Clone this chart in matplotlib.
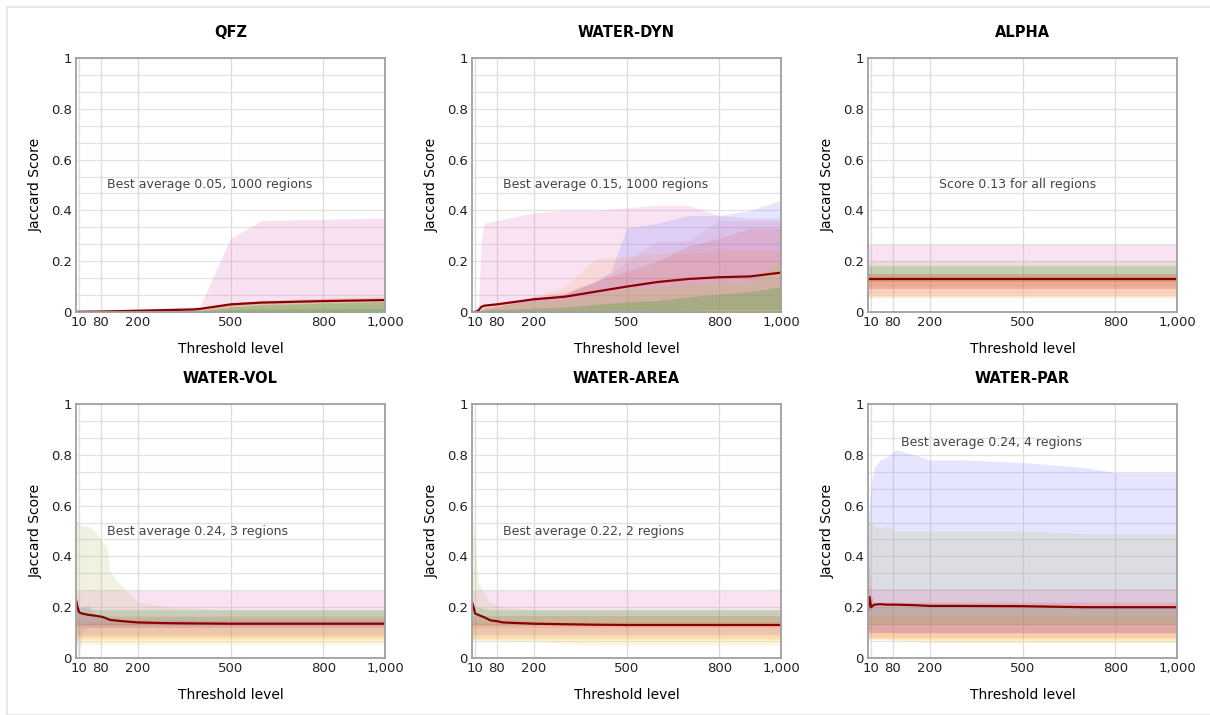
"""Jaccard score vs threshold level for six region sets."""

import matplotlib

matplotlib.use("Agg")
import matplotlib.pyplot as plt
import numpy as np
from matplotlib.patches import Rectangle
from matplotlib.ticker import FuncFormatter, MultipleLocator

plt.rcParams["font.family"] = ["DejaVu Sans"]

# region colours (pink, blue, khaki, green, orange, red, yellow, mauve)
PINK = "#e377c2"
BLUE = "#8080ff"
KHAKI = "#bcbd72"
GREEN = "#2ca02c"
ORANGE = "#ff7f0e"
RED = "#d62728"
YELLOW = "#ffd34d"
MAUVE = "#b05090"
MEAN_COLOR = "#8b0000"

X_TICKS = [10, 80, 200, 500, 800, 1000]

# ---- QFZ ----
QFZ_X = [0, 10, 80, 200, 380, 400, 500, 600, 800, 1000]
QFZ_MEAN = [0, 0.001, 0.002, 0.005, 0.01, 0.012, 0.03, 0.037, 0.043, 0.047]
QFZ_PINK = [0, 0.002, 0.005, 0.012, 0.02, 0.02, 0.29, 0.36, 0.365, 0.37]
QFZ_RED = [0, 0, 0.002, 0.006, 0.012, 0.014, 0.035, 0.045, 0.055, 0.06]
QFZ_KHAKI = [0, 0, 0.001, 0.004, 0.008, 0.01, 0.028, 0.036, 0.042, 0.046]
QFZ_GREEN = [0, 0, 0, 0.002, 0.005, 0.006, 0.02, 0.028, 0.035, 0.04]
QFZ_GREEN2 = [0, 0, 0, 0.001, 0.003, 0.004, 0.01, 0.012, 0.013, 0.015]

# ---- WATER-DYN ----
DYN_X = [0, 10, 20, 30, 40, 80, 200, 300, 400, 450, 500, 600, 700, 800, 900, 1000]
DYN_MEAN = [0, 0, 0.005, 0.02, 0.025, 0.03, 0.05, 0.06, 0.08, 0.09, 0.1, 0.118, 0.13, 0.137, 0.14, 0.155]
DYN_PINK = [0, 0, 0, 0.28, 0.35, 0.36, 0.39, 0.40, 0.40, 0.405, 0.41, 0.42, 0.42, 0.38, 0.37, 0.37]
DYN_BLUE = [0, 0, 0, 0.01, 0.015, 0.02, 0.05, 0.07, 0.12, 0.16, 0.33, 0.35, 0.38, 0.38, 0.40, 0.44]
DYN_MAUVE = [0, 0, 0, 0.01, 0.015, 0.02, 0.06, 0.08, 0.12, 0.15, 0.2, 0.28, 0.28, 0.36, 0.36, 0.36]
DYN_ORANGE = [0, 0, 0, 0.01, 0.015, 0.025, 0.06, 0.1, 0.21, 0.215, 0.22, 0.23, 0.23, 0.24, 0.24, 0.24]
DYN_RED = [0, 0, 0, 0.01, 0.02, 0.03, 0.05, 0.07, 0.12, 0.14, 0.16, 0.2, 0.26, 0.29, 0.33, 0.33]
DYN_KHAKI = [0, 0, 0, 0.01, 0.02, 0.025, 0.04, 0.05, 0.07, 0.08, 0.09, 0.1, 0.11, 0.12, 0.12, 0.2]
DYN_GREEN = [0, 0, 0, 0.005, 0.008, 0.01, 0.015, 0.02, 0.03, 0.035, 0.04, 0.045, 0.06, 0.07, 0.08, 0.1]
DYN_YELLOW = [0, 0, 0, 0, 0, 0, 0, 0, 0.002, 0.003, 0.004, 0.006, 0.008, 0.01, 0.01, 0.01]

# ---- ALPHA ----
ALPHA_X = [0, 1000]
ALPHA_MEAN = [0.13, 0.13]
ALPHA_BANDS = [  # colour, low, high
    (PINK, 0.06, 0.265),
    (KHAKI, 0.1, 0.2),
    (GREEN, 0.12, 0.18),
    (RED, 0.09, 0.15),
    (ORANGE, 0.07, 0.14),
    (YELLOW, 0.05, 0.08),
]

# ---- WATER-VOL ----
VOL_X = [0, 5, 10, 20, 40, 60, 80, 90, 100, 110, 150, 200, 300, 500, 1000]
VOL_MEAN = [0.23, 0.2, 0.18, 0.175, 0.17, 0.167, 0.163, 0.16, 0.155, 0.15, 0.145, 0.14, 0.137, 0.135, 0.135]
VOL_KHAKI = [0.54, 0.54, 0.53, 0.52, 0.52, 0.5, 0.47, 0.45, 0.44, 0.34, 0.28, 0.22, 0.2, 0.19, 0.19]
VOL_GREEN = [0.22, 0.2, 0.2, 0.2, 0.195, 0.19, 0.19, 0.19, 0.19, 0.19, 0.19, 0.19, 0.19, 0.19, 0.19]
VOL_RED = [0.2, 0.19, 0.18, 0.175, 0.17, 0.168, 0.165, 0.165, 0.165, 0.165, 0.165, 0.165, 0.165, 0.165, 0.165]
VOL_BLUE_LO = [0.1, 0.0, 0.0, 0.1, 0.12, 0.12, 0.12, 0.12, 0.12, 0.12, 0.12, 0.12, 0.12, 0.12, 0.12]
VOL_BLUE_HI = [0.2, 0.15, 0.15, 0.2, 0.21, 0.17, 0.16, 0.16, 0.15, 0.15, 0.15, 0.15, 0.15, 0.15, 0.15]

# ---- WATER-AREA ----
AREA_X = [0, 5, 10, 20, 40, 60, 80, 100, 200, 300, 400, 500, 1000]
AREA_MEAN = [0.22, 0.2, 0.175, 0.17, 0.16, 0.148, 0.145, 0.14, 0.135, 0.133, 0.131, 0.13, 0.13]
AREA_KHAKI = [0.54, 0.52, 0.47, 0.3, 0.25, 0.22, 0.21, 0.2, 0.19, 0.19, 0.19, 0.19, 0.19]
AREA_GREEN = [0.22, 0.2, 0.2, 0.2, 0.195, 0.19, 0.19, 0.19, 0.19, 0.19, 0.19, 0.19, 0.19]
AREA_YELLOW_LO = [0.07, 0.07, 0.07, 0.07, 0.07, 0.07, 0.07, 0.068, 0.065, 0.058, 0.05, 0.05, 0.05]

# ---- WATER-PAR ----
PAR_X = [0, 5, 10, 20, 40, 60, 90, 150, 200, 300, 500, 700, 800, 1000]
PAR_MEAN = [0.19, 0.24, 0.2, 0.21, 0.212, 0.21, 0.21, 0.208, 0.205, 0.205, 0.204, 0.2, 0.2, 0.2]
PAR_BLUE = [0.55, 0.6, 0.68, 0.75, 0.78, 0.79, 0.82, 0.8, 0.78, 0.78, 0.77, 0.75, 0.73, 0.73]
PAR_KHAKI = [0.55, 0.54, 0.53, 0.52, 0.51, 0.52, 0.5, 0.5, 0.5, 0.5, 0.5, 0.49, 0.49, 0.49]
PAR_RED = [0.43, 0.35, 0.25, 0.22, 0.22, 0.22, 0.22, 0.22, 0.22, 0.22, 0.22, 0.22, 0.22, 0.22]
PAR_YELLOW_LO = [0.08, 0.08, 0.08, 0.08, 0.075, 0.07, 0.07, 0.065, 0.06, 0.06, 0.06, 0.06, 0.06, 0.06]

TITLES = ["QFZ", "WATER-DYN", "ALPHA", "WATER-VOL", "WATER-AREA", "WATER-PAR"]
NOTES = [
    ("Best average 0.05, 1000 regions", 100, 0.5),
    ("Best average 0.15, 1000 regions", 100, 0.5),
    ("Score 0.13 for all regions", 229, 0.5),
    ("Best average 0.24, 3 regions", 100, 0.5),
    ("Best average 0.22, 2 regions", 100, 0.5),
    ("Best average 0.24, 4 regions", 107, 0.85),
]

BAND_ALPHA = 0.2


def band(ax, x, lo, hi, color, alpha=BAND_ALPHA):
    x = np.asarray(x, dtype=float)
    lo = np.broadcast_to(np.asarray(lo, dtype=float), x.shape)
    hi = np.broadcast_to(np.asarray(hi, dtype=float), x.shape)
    ax.fill_between(x, lo, hi, color=color, alpha=alpha, linewidth=0)


def style_axes(ax, title, note):
    ax.set_xlim(0, 1000)
    ax.set_ylim(0, 1)
    ax.set_xticks(X_TICKS)
    ax.xaxis.set_major_formatter(FuncFormatter(lambda v, _: f"{int(v):,}"))
    ax.set_yticks([0, 0.2, 0.4, 0.6, 0.8, 1])
    ax.set_yticklabels(["0", "0.2", "0.4", "0.6", "0.8", "1"])
    ax.yaxis.set_minor_locator(MultipleLocator(1 / 15))
    ax.grid(True, which="major", axis="x", color="#dddddd", linewidth=0.9)
    ax.grid(True, which="both", axis="y", color="#e2e2e2", linewidth=0.9)
    ax.set_axisbelow(True)
    ax.tick_params(which="both", length=0, labelsize=9.5, pad=3, colors="#222222")
    for sp in ax.spines.values():
        sp.set_color("#a0a0a0")
        sp.set_linewidth(1.3)
    ax.set_title(title, fontsize=10.5, fontweight="bold", pad=15)
    ax.set_xlabel("Threshold level", fontsize=10, labelpad=9)
    ax.set_ylabel("Jaccard Score", fontsize=10, labelpad=6)
    text, tx, ty = note
    ax.text(tx, ty, text, fontsize=9, color="#444444", va="center", ha="left")


W, H = 1210, 715
fig = plt.figure(figsize=(W / 100, H / 100), dpi=100)
fig.patches.append(
    Rectangle((7 / W, 0), 1, 1 - 7 / H, transform=fig.transFigure,
              fill=False, edgecolor="#e4e4e4", linewidth=1.2)
)

col_left = [76, 472, 868]
row_top = [58, 404]
ax_w, ax_h = 309, 254
axes = []
for r in range(2):
    for c in range(3):
        left = col_left[c] / W
        bottom = 1 - (row_top[r] + ax_h) / H
        axes.append(fig.add_axes([left, bottom, ax_w / W, ax_h / H]))

# QFZ
ax = axes[0]
band(ax, QFZ_X, 0, QFZ_PINK, PINK, 0.22)
band(ax, QFZ_X, 0, QFZ_RED, RED, 0.15)
band(ax, QFZ_X, 0, QFZ_KHAKI, KHAKI, 0.4)
band(ax, QFZ_X, 0, QFZ_GREEN, GREEN, 0.25)
band(ax, QFZ_X, 0, QFZ_GREEN2, GREEN, 0.2)
ax.plot(QFZ_X, QFZ_MEAN, color=MEAN_COLOR, lw=1.6)

# WATER-DYN
ax = axes[1]
band(ax, DYN_X, 0, DYN_PINK, PINK, 0.2)
band(ax, DYN_X, 0, DYN_BLUE, BLUE, 0.2)
band(ax, DYN_X, 0, DYN_MAUVE, MAUVE, 0.1)
band(ax, DYN_X, 0, DYN_ORANGE, ORANGE, 0.1)
band(ax, DYN_X, 0, DYN_RED, RED, 0.12)
band(ax, DYN_X, 0, DYN_KHAKI, KHAKI, 0.35)
band(ax, DYN_X, 0, DYN_GREEN, GREEN, 0.25)
band(ax, DYN_X, 0, DYN_YELLOW, YELLOW, 0.3)
ax.plot(DYN_X, DYN_MEAN, color=MEAN_COLOR, lw=1.6)

# ALPHA
ax = axes[2]
for color, lo, hi in ALPHA_BANDS:
    band(ax, ALPHA_X, lo, hi, color)
ax.plot(ALPHA_X, ALPHA_MEAN, color=MEAN_COLOR, lw=1.6)

# WATER-VOL
ax = axes[3]
band(ax, VOL_X, 0.12, 0.265, PINK, 0.2)
band(ax, VOL_X, 0.08, VOL_KHAKI, KHAKI, 0.2)
band(ax, VOL_X, 0.13, VOL_GREEN, GREEN, 0.2)
band(ax, VOL_X, VOL_BLUE_LO, VOL_BLUE_HI, BLUE, 0.15)
band(ax, VOL_X, 0.09, VOL_RED, RED, 0.15)
band(ax, VOL_X, 0.07, 0.14, ORANGE, 0.15)
band(ax, VOL_X, 0.05, 0.09, YELLOW, 0.2)
ax.plot(VOL_X, VOL_MEAN, color=MEAN_COLOR, lw=1.6)

# WATER-AREA
ax = axes[4]
band(ax, AREA_X, 0.12, 0.265, PINK, 0.2)
band(ax, AREA_X, 0.08, AREA_KHAKI, KHAKI, 0.2)
band(ax, AREA_X, 0.13, AREA_GREEN, GREEN, 0.2)
band(ax, AREA_X, 0.09, 0.165, RED, 0.15)
band(ax, AREA_X, 0.07, 0.14, ORANGE, 0.15)
band(ax, AREA_X, AREA_YELLOW_LO, 0.09, YELLOW, 0.2)
ax.plot(AREA_X, AREA_MEAN, color=MEAN_COLOR, lw=1.6)

# WATER-PAR
ax = axes[5]
band(ax, PAR_X, 0.1, PAR_BLUE, BLUE, 0.2)
band(ax, PAR_X, 0.1, PAR_KHAKI, KHAKI, 0.2)
band(ax, PAR_X, 0.1, 0.27, PINK, 0.2)
band(ax, PAR_X, 0.08, PAR_RED, RED, 0.15)
band(ax, PAR_X, 0.13, 0.2, GREEN, 0.15)
band(ax, PAR_X, 0.07, 0.16, ORANGE, 0.15)
band(ax, PAR_X, PAR_YELLOW_LO, 0.1, YELLOW, 0.2)
ax.plot(PAR_X, PAR_MEAN, color=MEAN_COLOR, lw=1.6)

for ax, title, note in zip(axes, TITLES, NOTES):
    style_axes(ax, title, note)

fig.savefig("out.png", dpi=100)
